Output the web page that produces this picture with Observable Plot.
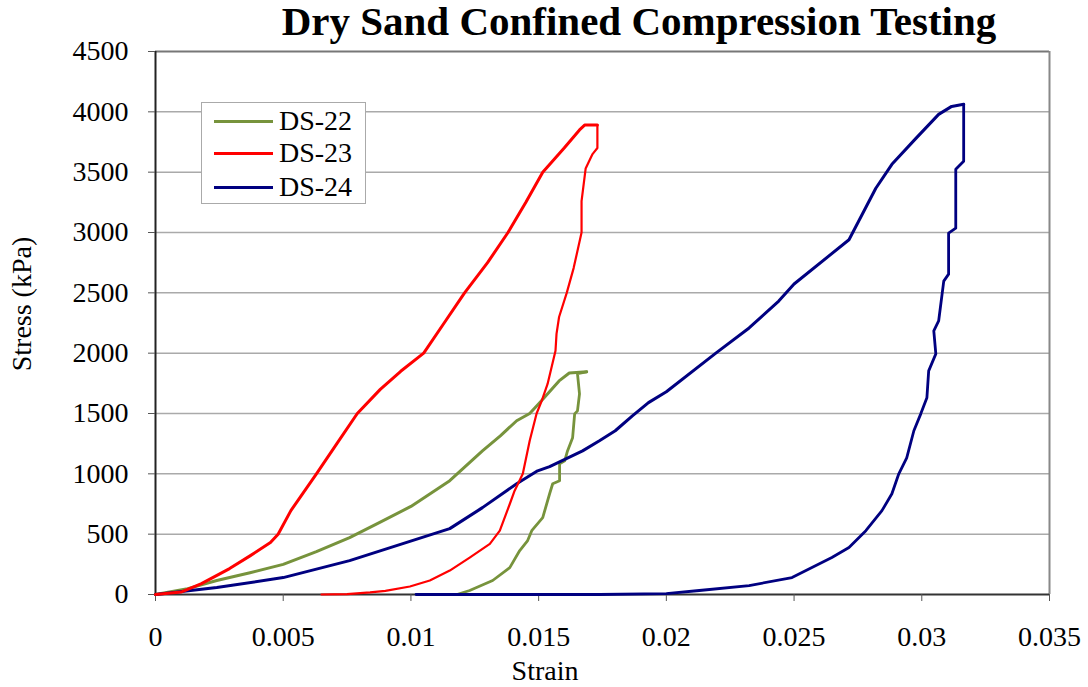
<!DOCTYPE html>
<html>
<head>
<meta charset="utf-8">
<script src="https://cdn.jsdelivr.net/npm/d3@7"></script>
<script src="https://cdn.jsdelivr.net/npm/@observablehq/plot@0.6"></script>
<style>
  html, body { margin: 0; padding: 0; background: #fff; }
  #wrap { position: relative; width: 1088px; height: 687px; font-family: "Liberation Serif", "Times New Roman", serif; color: #000; }
  #wrap svg { position: absolute; left: 0; top: 0; }
  .title { position: absolute; left: 639px; top: 1px; transform: translateX(-50%); font-size: 41px; font-weight: bold; line-height: 40px; white-space: nowrap; }
  .xlabel { position: absolute; left: 545px; top: 657px; transform: translateX(-50%); font-size: 28px; line-height: 28px; white-space: nowrap; }
  .ylabel { position: absolute; left: 22px; top: 304px; transform: translate(-50%, -50%) rotate(-90deg); font-size: 28px; line-height: 28px; white-space: nowrap; }
  .legend { position: absolute; left: 201px; top: 102px; width: 163px; height: 100px; border: 1px solid #aaa; background: #fff; }
  .legend .row { position: absolute; left: 0; height: 30px; width: 163px; }
  .legend .sw { position: absolute; left: 12px; top: 13.5px; width: 59px; height: 3px; }
  .legend .lt { position: absolute; left: 77px; top: 0; font-size: 28px; line-height: 30px; white-space: nowrap; }
</style>
</head>
<body>
<div id="wrap">
  <div id="chart"></div>
  <div class="title">Dry Sand Confined Compression Testing</div>
  <div class="xlabel">Strain</div>
  <div class="ylabel">Stress (kPa)</div>
  <div class="legend" id="legend"></div>
</div>
<script>
// ---- Data ----
const seriesNames = ["DS-22", "DS-23", "DS-24"];
const seriesColors = ["#77933C", "#FF0000", "#000080"];

const xTicks = [0, 0.005, 0.01, 0.015, 0.02, 0.025, 0.03, 0.035];
const xTickLabels = ["0", "0.005", "0.01", "0.015", "0.02", "0.025", "0.03", "0.035"];
const yTicks = [0, 500, 1000, 1500, 2000, 2500, 3000, 3500, 4000, 4500];
const yTickLabels = ["0", "500", "1000", "1500", "2000", "2500", "3000", "3500", "4000", "4500"];

// [strain, stress kPa]
const ds22Load = [[0,0],[0.0012,45],[0.0024,116],[0.0037,180],[0.005,250],[0.0063,355],[0.0076,472],[0.0088,600],[0.0100,730],[0.01152,943],[0.0128,1190],[0.0135,1315],[0.01414,1440],[0.01465,1500],[0.01504,1590],[0.0158,1770],[0.0162,1836],[0.01688,1845]];
const ds22Unload = [[0.01688,1845],[0.01652,1830],[0.0166,1663],[0.01652,1522],[0.01641,1497],[0.01633,1300],[0.01613,1190],[0.01602,1108],[0.01582,1083],[0.01582,943],[0.01555,918],[0.01543,835],[0.01516,637],[0.01473,529],[0.01457,447],[0.01426,364],[0.01387,223],[0.0132,116],[0.0123,33],[0.0118,0]];

const ds23Load = [[0,0],[0.0010,20],[0.0018,90],[0.0029,215],[0.0037,320],[0.0045,430],[0.0048,500],[0.0053,695],[0.0063,1000],[0.0071,1250],[0.0079,1500],[0.0088,1700],[0.0096,1850],[0.0105,2000],[0.0113,2250],[0.0121,2500],[0.0130,2750],[0.0138,3000],[0.0145,3250],[0.01516,3500],[0.0160,3700],[0.0166,3850],[0.0168,3890],[0.0173,3890]];
const ds23Unload = [[0.0173,3890],[0.0173,3700],[0.01711,3650],[0.01684,3530],[0.01668,3260],[0.01668,3000],[0.01637,2705],[0.0161,2500],[0.0158,2300],[0.0157,2160],[0.01566,2020],[0.01535,1745],[0.01512,1605],[0.01492,1500],[0.01465,1274],[0.01438,1000],[0.01406,860],[0.01387,750],[0.01348,530],[0.01309,420],[0.0123,306],[0.01152,198],[0.01074,116],[0.00996,66],[0.0090,30],[0.0084,17],[0.0075,3],[0.0065,0]];

const ds24Load = [[0,0],[0.0024,58],[0.005,140],[0.0076,281],[0.01152,546],[0.0128,720],[0.01414,918],[0.01496,1025],[0.01543,1060],[0.01672,1190],[0.01738,1274],[0.018,1357],[0.01867,1480],[0.0193,1590],[0.02,1680],[0.02195,2002],[0.02324,2209],[0.0244,2432],[0.025,2573],[0.02715,2940],[0.0282,3367],[0.02883,3565],[0.02977,3780],[0.03066,3979],[0.03117,4045],[0.03164,4062]];
const ds24Unload = [[0.03164,4062],[0.03164,3590],[0.03133,3524],[0.03133,3036],[0.03105,2995],[0.03105,2655],[0.03086,2597],[0.03066,2267],[0.03047,2184],[0.03055,1994],[0.03027,1853],[0.0302,1630],[0.02996,1497],[0.02969,1357],[0.02941,1133],[0.0291,1000],[0.02883,835],[0.02844,695],[0.02781,529],[0.02715,389],[0.02648,306],[0.02492,140],[0.02324,74],[0.02129,33],[0.02,8],[0.01738,0],[0.0102,0]];

// ---- Build ----
const xLabelMap = new Map(xTicks.map((v, i) => [v, xTickLabels[i]]));
const yLabelMap = new Map(yTicks.map((v, i) => [v, yTickLabels[i]]));
const toRows = (arr) => arr.map(([strain, stress]) => ({strain, stress}));

const lineOpts = (color, w) => ({x: "strain", y: "stress", stroke: color, strokeWidth: w, strokeLinejoin: "round", strokeLinecap: "round"});

const chart = Plot.plot({
  width: 1088,
  height: 687,
  marginLeft: 155,
  marginRight: 39,
  marginTop: 51,
  marginBottom: 93,
  style: {fontFamily: "'Liberation Serif', 'Times New Roman', serif", fontSize: "28px", color: "#000", background: "transparent"},
  x: {domain: [0, 0.035], label: null},
  y: {domain: [0, 4500], label: null},
  marks: [
    Plot.ruleY(yTicks.filter(v => v > 0 && v < 4500), {stroke: "#aaa", strokeWidth: 1.5}),
    Plot.ruleY([4500], {stroke: "#777", strokeWidth: 2}),
    Plot.ruleX([0.035], {stroke: "#888", strokeWidth: 2}),
    Plot.ruleY([0], {stroke: "#333", strokeWidth: 2}),
    Plot.ruleX([0], {stroke: "#222", strokeWidth: 2}),
    Plot.axisX({ticks: xTicks, tickSize: 7, tickPadding: 25, tickFormat: d => xLabelMap.get(d), stroke: "#555", label: null}),
    Plot.axisY({ticks: yTicks, tickSize: 7, tickPadding: 20, tickFormat: d => yLabelMap.get(d), stroke: "#555", label: null}),
    Plot.line(toRows(ds22Load), lineOpts(seriesColors[0], 3)),
    Plot.line(toRows(ds22Unload), lineOpts(seriesColors[0], 2.8)),
    Plot.line(toRows(ds24Load), lineOpts(seriesColors[2], 3)),
    Plot.line(toRows(ds24Unload), lineOpts(seriesColors[2], 2.8)),
    Plot.line(toRows(ds23Load), lineOpts(seriesColors[1], 3)),
    Plot.line(toRows(ds23Unload), lineOpts(seriesColors[1], 2.2))
  ]
});
document.getElementById("chart").appendChild(chart);

// Legend
const legend = document.getElementById("legend");
const rowTops = [3, 35, 69];
seriesNames.forEach((name, i) => {
  const row = document.createElement("div");
  row.className = "row";
  row.style.top = rowTops[i] + "px";
  const sw = document.createElement("div");
  sw.className = "sw";
  sw.style.background = seriesColors[i];
  const lt = document.createElement("div");
  lt.className = "lt";
  lt.textContent = name;
  row.appendChild(sw);
  row.appendChild(lt);
  legend.appendChild(row);
});
</script>
</body>
</html>
